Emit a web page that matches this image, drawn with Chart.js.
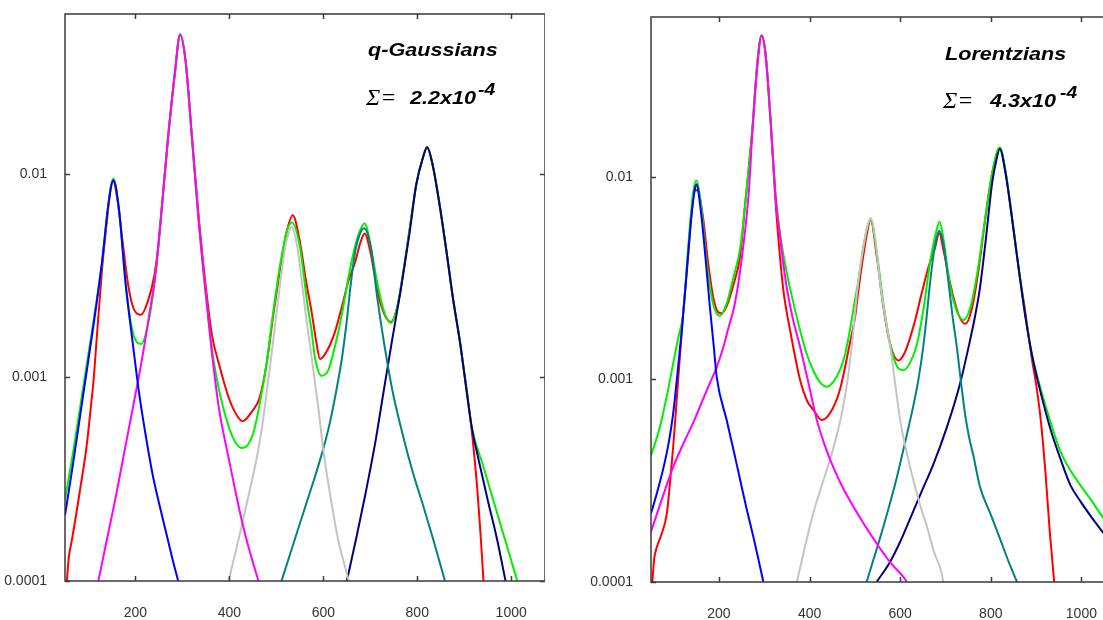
<!DOCTYPE html>
<html>
<head>
<meta charset="utf-8">
<script src="https://cdn.jsdelivr.net/npm/chart.js@4.4.1/dist/chart.umd.min.js"></script>
<style>
  html, body { margin: 0; padding: 0; background: #fff; overflow: hidden; width: 1103px; height: 620px; }
  .panel { position: absolute; top: 0; height: 620px; }
  #qPanel { left: 0; width: 545px; }
  #lPanel { left: 590px; width: 524px; }
  .note { position: absolute; font-family: 'Liberation Sans', Arial, sans-serif; font-weight: bold; font-style: italic;
          color: #000; white-space: nowrap; transform-origin: left top; transform: scaleX(1.2); }
  .title { font-size: 18px; line-height: 18px; }
  .val   { font-size: 18px; line-height: 18px; }
  .sup   { font-size: 16px; line-height: 16px; }
  .sigma { position: absolute; font-family: 'Liberation Serif', 'Times New Roman', serif; font-style: italic;
           font-size: 24px; line-height: 24px; color: #000; white-space: nowrap; }
</style>
</head>
<body>
<div class="panel" id="qPanel"><canvas id="qChart" width="545" height="620"></canvas></div>
<div class="panel" id="lPanel"><canvas id="lChart" width="524" height="620"></canvas></div>

<div class="note title" style="left:368px; top:41px;">q-Gaussians</div>
<div class="sigma" style="left:366px; top:85px;">&Sigma;=</div>
<div class="note val" style="left:410px; top:89px;">2.2x10</div>
<div class="note sup" style="left:478px; top:82px;">-4</div>

<div class="note title" style="left:945px; top:45px;">Lorentzians</div>
<div class="sigma" style="left:943px; top:88px;">&Sigma;=</div>
<div class="note val" style="left:990px; top:92px;">4.3x10</div>
<div class="note sup" style="left:1060px; top:85px;">-4</div>

<script>
// ── axes ──
const xTicks = [200, 400, 600, 800, 1000];
const yTicks = [0.0001, 0.001, 0.01];
const yTickLabels = ['0.0001', '0.001', '0.01'];

// ── q-Gaussians panel ──
const qRedX = [54, 58, 64, 72, 82, 96, 104, 111, 118, 129, 140, 147, 153, 161, 172, 183, 194, 212, 226, 240, 248, 255, 269, 284, 295, 307, 320, 334, 349, 363, 378, 399, 417, 428, 450, 464, 479, 493, 508, 522, 535, 549, 563, 575, 585, 593, 607, 625, 640, 654, 668, 679, 688, 701, 715, 729, 744, 758, 769, 783, 798, 812, 821, 833, 848, 862, 876, 891, 905, 916, 922, 928, 934, 938, 941];
const qRedY = [0.0001, 0.00013, 0.000156, 0.0002, 0.00028, 0.00046, 0.00068, 0.00098, 0.00161, 0.00342, 0.0061, 0.0085, 0.0092, 0.0076, 0.0048, 0.003, 0.00225, 0.00203, 0.00235, 0.00315, 0.0043, 0.0064, 0.0147, 0.0313, 0.0484, 0.0354, 0.0154, 0.0064, 0.0029, 0.00161, 0.00116, 0.00079, 0.000645, 0.00061, 0.00069, 0.00079, 0.00116, 0.00199, 0.00342, 0.0052, 0.00627, 0.0048, 0.003, 0.0021, 0.0015, 0.00123, 0.00134, 0.00168, 0.00225, 0.003, 0.0037, 0.0046, 0.0051, 0.00405, 0.00267, 0.00207, 0.00187, 0.00225, 0.00315, 0.0052, 0.0089, 0.012, 0.0135, 0.011, 0.00695, 0.0042, 0.00245, 0.00149, 0.00087, 0.00055, 0.0004, 0.00028, 0.00018, 0.00013, 0.0001];

const qGreenX = [50, 67, 89, 111, 129, 143, 153, 165, 179, 194, 212, 230, 244, 255, 269, 284, 295, 307, 320, 334, 349, 363, 378, 399, 414, 428, 450, 464, 479, 493, 508, 522, 533, 550, 566, 575, 582, 596, 611, 625, 640, 657, 672, 688, 701, 715, 729, 744, 758, 769, 783, 798, 812, 821, 833, 848, 862, 876, 891, 905, 916, 940, 965, 990, 1013];
const qGreenY = [0.00025, 0.000426, 0.0009, 0.00191, 0.00372, 0.00726, 0.0095, 0.00667, 0.0029, 0.00168, 0.00146, 0.00199, 0.00342, 0.0064, 0.0147, 0.0313, 0.0484, 0.0354, 0.0154, 0.0061, 0.00267, 0.00137, 0.000865, 0.000569, 0.000475, 0.00045, 0.000524, 0.000731, 0.00116, 0.00207, 0.00357, 0.0052, 0.00577, 0.0044, 0.0023, 0.0017, 0.00126, 0.00102, 0.00109, 0.00143, 0.00207, 0.00342, 0.0048, 0.0057, 0.0044, 0.0029, 0.00212, 0.00185, 0.00225, 0.00315, 0.0052, 0.0089, 0.012, 0.0135, 0.011, 0.00695, 0.0042, 0.00245, 0.00149, 0.000865, 0.00057, 0.00037, 0.000236, 0.000151, 0.0001];

const qBlueX = [50, 67, 89, 111, 129, 143, 153, 165, 179, 194, 208, 223, 237, 251, 266, 280, 291];
const qBlueY = [0.00021, 0.000375, 0.00083, 0.00183, 0.00372, 0.00726, 0.0093, 0.00667, 0.0029, 0.00149, 0.00083, 0.0005, 0.00033, 0.000237, 0.00017, 0.000125, 0.0001];

const qMagentaX = [121, 140, 158, 176, 194, 212, 230, 244, 255, 269, 284, 295, 307, 320, 334, 349, 363, 378, 396, 412, 426, 444, 462];
const qMagentaY = [0.0001, 0.000163, 0.000258, 0.000426, 0.0007, 0.00116, 0.00207, 0.00342, 0.0064, 0.0147, 0.0313, 0.0484, 0.0354, 0.0154, 0.0061, 0.00267, 0.00131, 0.0007, 0.000427, 0.000282, 0.0002, 0.000138, 0.0001];

const qGrayX = [398, 412, 426, 442, 458, 469, 479, 489, 497, 508, 518, 526, 532, 543, 554, 563, 572, 589, 600, 614, 632, 650, 654];
const qGrayY = [0.0001, 0.000135, 0.000186, 0.00027, 0.0004, 0.00056, 0.00083, 0.00126, 0.00178, 0.00288, 0.00427, 0.0051, 0.0055, 0.0046, 0.003, 0.002, 0.00142, 0.00072, 0.00044, 0.00027, 0.000158, 0.000109, 0.0001];

const qTealX = [511, 529, 547, 565, 583, 600, 614, 628, 640, 650, 659, 668, 677, 686, 701, 715, 729, 747, 769, 790, 812, 833, 859];
const qTealY = [0.0001, 0.000135, 0.000182, 0.000245, 0.00033, 0.000447, 0.0006, 0.00087, 0.00126, 0.0019, 0.00295, 0.00417, 0.005, 0.0054, 0.0044, 0.00245, 0.00149, 0.000865, 0.000524, 0.000345, 0.000237, 0.000163, 0.0001];

const qNavyX = [650, 671, 690, 710, 729, 747, 765, 783, 798, 812, 821, 833, 848, 862, 876, 891, 905, 916, 930, 950, 970, 988];
const qNavyY = [0.0001, 0.000166, 0.00027, 0.00047, 0.00087, 0.00155, 0.0027, 0.005, 0.0089, 0.012, 0.0135, 0.011, 0.00695, 0.0042, 0.00245, 0.00149, 0.000865, 0.00057, 0.0004, 0.00025, 0.00016, 0.0001];

// ── Lorentzians panel ──
const lRedX = [53, 57, 63, 74, 85, 92, 99, 105, 110, 121, 131, 141, 147, 154, 165, 176, 188, 198, 206, 217, 232, 247, 258, 274, 284, 294, 303, 314, 325, 334, 342, 357, 379, 395, 408, 427, 445, 467, 489, 500, 508, 518, 527, 535, 548, 563, 578, 596, 611, 630, 648, 663, 677, 686, 696, 711, 729, 744, 759, 773, 788, 803, 820, 832, 847, 862, 877, 891, 899, 910, 921, 930, 940];
const lRedY = [0.0001, 0.00013, 0.000149, 0.000174, 0.000218, 0.00031, 0.000466, 0.0007, 0.001, 0.00212, 0.0039, 0.0071, 0.0086, 0.0085, 0.00627, 0.00378, 0.0025, 0.00215, 0.00212, 0.0023, 0.00293, 0.00411, 0.00741, 0.0175, 0.0353, 0.0499, 0.0401, 0.0188, 0.0075, 0.0042, 0.00277, 0.00175, 0.000995, 0.00078, 0.00071, 0.00063, 0.00068, 0.00089, 0.00151, 0.002, 0.00277, 0.004, 0.0053, 0.00614, 0.00411, 0.00227, 0.00149, 0.00124, 0.00137, 0.00185, 0.00269, 0.00362, 0.00446, 0.00528, 0.0043, 0.00293, 0.00209, 0.00188, 0.00227, 0.00347, 0.00627, 0.0104, 0.0138, 0.0108, 0.00627, 0.00347, 0.00209, 0.00125, 0.00098, 0.00064, 0.00034, 0.00018, 0.0001];

const lGreenX = [50, 70, 85, 99, 110, 121, 131, 142, 150, 160, 172, 187, 202, 217, 232, 247, 258, 274, 284, 294, 303, 314, 325, 337, 353, 366, 379, 393, 408, 423, 438, 452, 467, 479, 489, 498, 508, 518, 527, 535, 548, 563, 578, 593, 607, 622, 637, 652, 666, 681, 687, 696, 707, 722, 740, 755, 770, 788, 803, 820, 832, 847, 862, 877, 891, 910, 932, 954, 976, 998, 1021, 1050, 1072];
const lGreenY = [0.00042, 0.000586, 0.00083, 0.0012, 0.0016, 0.00212, 0.0042, 0.00807, 0.0096, 0.00741, 0.00394, 0.00237, 0.00206, 0.00237, 0.00319, 0.00446, 0.00741, 0.0175, 0.0353, 0.0499, 0.0401, 0.0188, 0.00807, 0.00487, 0.0031, 0.0023, 0.00175, 0.00135, 0.00111, 0.00097, 0.00092, 0.00097, 0.00111, 0.00135, 0.00175, 0.0023, 0.0031, 0.0044, 0.0056, 0.0062, 0.00428, 0.00237, 0.00149, 0.00116, 0.00111, 0.00121, 0.00149, 0.00227, 0.00378, 0.00552, 0.006, 0.00487, 0.00319, 0.00227, 0.00196, 0.00227, 0.00333, 0.00627, 0.0104, 0.014, 0.0108, 0.00627, 0.00347, 0.002, 0.00132, 0.0009, 0.000615, 0.00044, 0.000355, 0.0003, 0.000255, 0.000205, 0.00018];

const lBlueX = [50, 64, 78, 90, 99, 108, 118, 128, 139, 146, 150, 160, 169, 180, 188, 195, 217, 232, 246, 261, 276, 287, 298];
const lBlueY = [0.000218, 0.00028, 0.00037, 0.0005, 0.00068, 0.00105, 0.00175, 0.0032, 0.0063, 0.0085, 0.0092, 0.0068, 0.00428, 0.00227, 0.0015, 0.00103, 0.00063, 0.00045, 0.000325, 0.00023, 0.000167, 0.00013, 0.0001];

const lMagentaX = [50, 75, 99, 121, 143, 162, 180, 195, 210, 221, 232, 242, 250, 258, 266, 274, 284, 294, 303, 314, 325, 337, 348, 363, 379, 398, 416, 434, 452, 474, 497, 522, 548, 578, 607, 615];
const lMagentaY = [0.000177, 0.00026, 0.00037, 0.00048, 0.00061, 0.00077, 0.00096, 0.00115, 0.00145, 0.0018, 0.0022, 0.0029, 0.0039, 0.0055, 0.0085, 0.0168, 0.0335, 0.0499, 0.0401, 0.0188, 0.00807, 0.0046, 0.003, 0.002, 0.00145, 0.00095, 0.00063, 0.00047, 0.00037, 0.00029, 0.000235, 0.00019, 0.000155, 0.000125, 0.000106, 0.0001];

const lGrayX = [372, 390, 408, 426, 445, 460, 474, 484, 493, 500, 508, 518, 527, 535, 545, 555, 566, 578, 589, 600, 614, 629, 644, 659, 675, 692, 695];
const lGrayY = [0.0001, 0.00015, 0.000218, 0.000295, 0.0004, 0.00053, 0.00073, 0.001, 0.00145, 0.0021, 0.0031, 0.0044, 0.0056, 0.00627, 0.005, 0.0031, 0.0021, 0.00145, 0.00095, 0.00063, 0.00044, 0.000319, 0.00024, 0.000188, 0.00014, 0.00011, 0.0001];

const lTealX = [526, 541, 556, 574, 592, 610, 629, 641, 651, 659, 666, 676, 686, 696, 706, 715, 725, 734, 743, 752, 762, 776, 800, 822, 840, 858];
const lTealY = [0.0001, 0.000129, 0.000166, 0.000229, 0.000324, 0.00048, 0.00074, 0.00102, 0.00145, 0.0021, 0.003, 0.00447, 0.00541, 0.0046, 0.0031, 0.0021, 0.00145, 0.00098, 0.00068, 0.00052, 0.000416, 0.000296, 0.000215, 0.00016, 0.000125, 0.0001];

const lNavyX = [548, 578, 600, 629, 651, 673, 703, 732, 754, 766, 776, 788, 803, 812, 820, 832, 847, 862, 877, 891, 910, 932, 954, 976, 998, 1021, 1049, 1072];
const lNavyY = [0.0001, 0.000126, 0.000158, 0.000224, 0.000292, 0.00038, 0.00058, 0.00095, 0.00155, 0.00209, 0.00282, 0.00468, 0.0093, 0.012, 0.0137, 0.0106, 0.0062, 0.00347, 0.002, 0.00132, 0.000863, 0.000566, 0.000404, 0.0003, 0.00025, 0.000211, 0.000174, 0.000148];

const COLORS = {
  red: '#ff0000', green: '#00f000', blue: '#0000ff', magenta: '#ff00ff',
  gray: '#c4c4c4', teal: '#008282', navy: '#000080',
};

function pts(xs, ys) {
  return xs.map((x, i) => ({ x, y: ys[i] }));
}

function line(xs, ys, color, order) {
  return {
    data: pts(xs, ys),
    borderColor: color,
    backgroundColor: color,
    borderWidth: 2,
    pointRadius: 0,
    cubicInterpolationMode: 'monotone',
    order,
  };
}

// frame with inward tick marks, like the original plot
const framePlugin = {
  id: 'frame',
  afterDraw(chart) {
    const { ctx, chartArea: a, scales } = chart;
    ctx.save();
    ctx.strokeStyle = '#3a3a3a';
    ctx.lineWidth = 1.5;
    ctx.strokeRect(a.left, a.top, a.right - a.left, a.bottom - a.top);
    ctx.beginPath();
    scales.x.ticks.forEach(t => {
      const px = Math.round(scales.x.getPixelForValue(t.value)) + 0.5;
      ctx.moveTo(px, a.bottom); ctx.lineTo(px, a.bottom - 5);
      ctx.moveTo(px, a.top);    ctx.lineTo(px, a.top + 5);
    });
    scales.y.ticks.forEach(t => {
      const py = Math.round(scales.y.getPixelForValue(t.value)) + 0.5;
      ctx.moveTo(a.left, py);  ctx.lineTo(a.left + 5, py);
      ctx.moveTo(a.right, py); ctx.lineTo(a.right - 5, py);
    });
    ctx.stroke();
    ctx.restore();
  },
};

function makeChart(id, datasets, box) {
  const tickFont = { family: "'Liberation Sans', Arial, sans-serif", size: 14 };
  return new Chart(document.getElementById(id), {
    type: 'line',
    data: { datasets },
    plugins: [framePlugin],
    options: {
      responsive: false,
      animation: false,
      devicePixelRatio: 1,
      layout: { padding: { top: box.top, right: 0, left: 0, bottom: 0 } },
      plugins: { legend: { display: false }, tooltip: { enabled: false } },
      scales: {
        x: {
          type: 'linear',
          min: 50,
          max: 1072,
          afterBuildTicks: s => { s.ticks = xTicks.map(v => ({ value: v })); },
          afterFit: s => { s.height = box.xh; s.paddingLeft = 0; s.paddingRight = 0; },
          grid: { display: false, drawTicks: false },
          border: { display: false },
          ticks: {
            color: '#333', font: tickFont, padding: 24, maxRotation: 0, autoSkip: false,
            callback: v => String(v),
          },
        },
        y: {
          type: 'logarithmic',
          min: 0.0001,
          max: box.ymax,
          afterBuildTicks: s => { s.ticks = yTicks.map(v => ({ value: v })); },
          afterFit: s => { s.width = box.yw; s.paddingTop = 0; s.paddingBottom = 0; },
          grid: { display: false, drawTicks: false },
          border: { display: false },
          ticks: {
            color: '#333', font: tickFont, padding: 18,
            callback: v => yTickLabels[yTicks.indexOf(v)] ?? '',
          },
        },
      },
    },
  });
}

makeChart('qChart', [
  line(qBlueX, qBlueY, COLORS.blue, 1),
  line(qMagentaX, qMagentaY, COLORS.magenta, 1),
  line(qGrayX, qGrayY, COLORS.gray, 1),
  line(qTealX, qTealY, COLORS.teal, 1),
  line(qNavyX, qNavyY, COLORS.navy, 1),
  line(qGreenX, qGreenY, COLORS.green, 2),
  line(qRedX, qRedY, COLORS.red, 3),
], { top: 14, xh: 39, yw: 65, ymax: 0.061 });

makeChart('lChart', [
  line(lBlueX, lBlueY, COLORS.blue, 1),
  line(lMagentaX, lMagentaY, COLORS.magenta, 1),
  line(lGrayX, lGrayY, COLORS.gray, 1),
  line(lTealX, lTealY, COLORS.teal, 1),
  line(lNavyX, lNavyY, COLORS.navy, 1),
  line(lGreenX, lGreenY, COLORS.green, 2),
  line(lRedX, lRedY, COLORS.red, 3),
], { top: 17, xh: 38, yw: 61, ymax: 0.0615 });
</script>
</body>
</html>
